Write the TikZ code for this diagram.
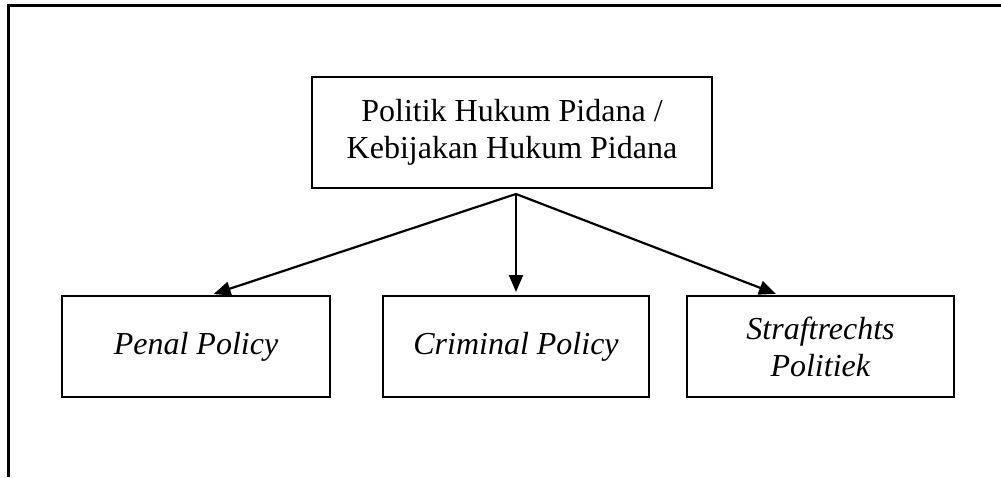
\documentclass[tikz,border=0pt]{standalone}
\usepackage{fontspec}
\setmainfont{Liberation Serif}
\usetikzlibrary{arrows.meta}

\tikzset{
    box/.style = {draw, line width=2pt, align=center, inner sep=0pt,
        font=\fontsize{32}{37}\selectfont},
    arr/.style = {-{Triangle[length=17pt,width=14pt]}, line width=2.2pt, shorten >=3pt}
}

\begin{document}
\begin{tikzpicture}[x=1pt, y=-1pt]
        \useasboundingbox (0,0) rectangle (1001,477);
        % open frame, top and left only
        \draw[line width=3pt] (8,477) -- (8,5) -- (1001,5);

        \node[box, minimum width=400pt, minimum height=111pt] (top) at (512,132.5)
            {Politik Hukum Pidana /\\Kebijakan Hukum Pidana};

        \node[box, minimum width=268pt, minimum height=101pt] (penal) at (196,346.5) {\textit{Penal Policy}};
        \node[box, minimum width=266pt, minimum height=101pt] (criminal) at (516,346.5) {\textit{Criminal Policy}};
        \node[box, minimum width=267pt, minimum height=101pt] (straf) at (820.5,346.5) {\textit{Straftrechts}\\\textit{Politiek}};

        \coordinate (split) at (516,194);
        \draw[arr] (split) -- (penal.74);
        \draw[arr] (split) -- (criminal.north);
        \draw[arr] (split) -- (straf.129);
    \end{tikzpicture}
\end{document}
